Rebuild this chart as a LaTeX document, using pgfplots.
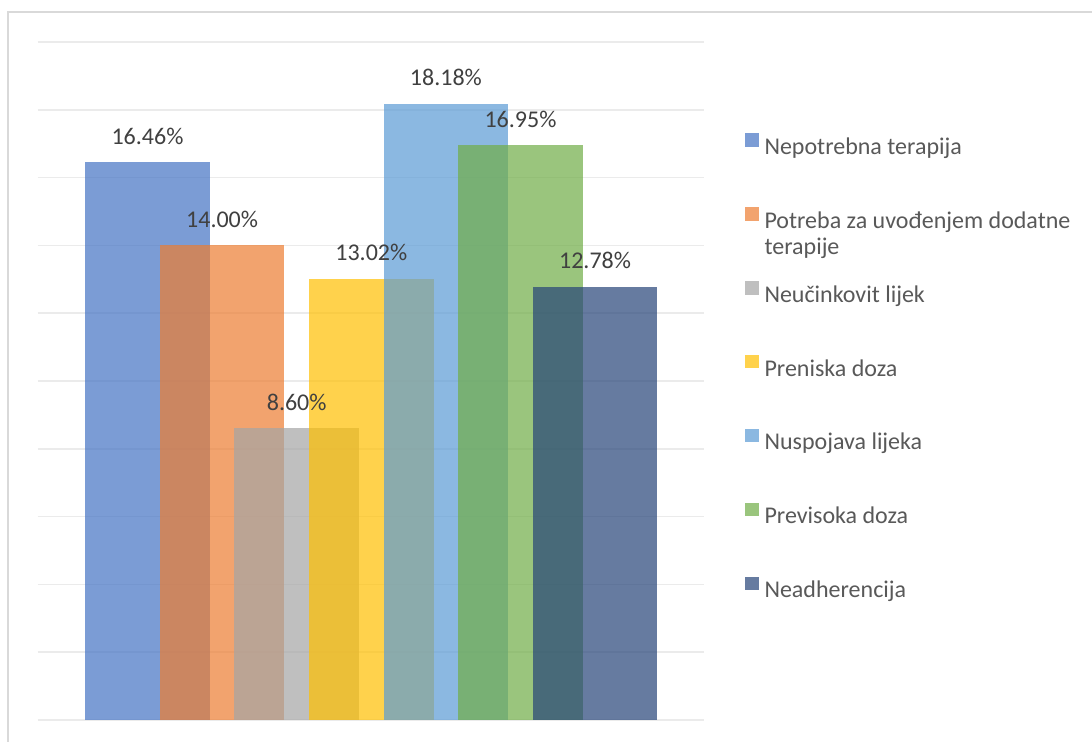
\documentclass[border=0pt]{standalone}
\usepackage{fontspec}
\setmainfont{Carlito}
\usepackage{pgfplots}
\pgfplotsset{compat=1.18}

\definecolor{c1}{HTML}{4472C4}
\definecolor{c2}{HTML}{ED7D31}
\definecolor{c3}{HTML}{A5A5A5}
\definecolor{c4}{HTML}{FFC000}
\definecolor{c5}{HTML}{5B9BD5}
\definecolor{c6}{HTML}{70AD47}
\definecolor{c7}{HTML}{264478}
\definecolor{gridc}{HTML}{EBEBEB}
\definecolor{framec}{HTML}{D9D9D9}
\definecolor{labelc}{HTML}{404040}
\definecolor{legc}{HTML}{595959}

\begin{document}
\begin{tikzpicture}
\path[use as bounding box, fill=white] (0,0) rectangle (546pt,371pt);
\draw[framec, line width=1pt] (4pt,0) -- (4pt,365pt) -- (546pt,365pt);
\begin{axis}[
    at={(19pt,11pt)}, anchor=south west,
    scale only axis, width=333pt, height=339pt,
    xmin=-1.468, xmax=7.46, ymin=0, ymax=20,
    ybar, bar shift=0pt, bar width=62.25pt,
    axis line style={draw=none},
    xtick=\empty, ytick={0,2,...,20}, yticklabels={},
    major tick length=0pt,
    ymajorgrids, grid style={draw=gridc, line width=0.75pt},
    /pgf/number format/assume math mode=true,
    nodes near coords={\pgfmathprintnumber[fixed,fixed zerofill,precision=2]{\pgfplotspointmeta}\%},
    every node near coord/.append style={anchor=center, yshift=13pt, text=labelc,
        font=\fontsize{12}{14}\selectfont, text opacity=1},
    legend cell align=left,
    legend style={at={(1.0616,0.8654)}, anchor=north west, draw=none, fill=none,
        inner sep=0pt, outer sep=0pt, row sep=23.4pt, column sep=3pt,
        font=\fontsize{12}{13}\selectfont, text=legc,
        nodes={inner sep=0pt, text height=9pt, text depth=3pt}},
    legend image code/.code={\fill[#1, draw=none] (0pt,0.8pt) rectangle (6.75pt,7.55pt);},
]
\addplot[fill=c1, draw=none, fill opacity=0.7] coordinates {(0,16.46)};
\addlegendentry{Nepotrebna terapija}
\addplot[fill=c2, draw=none, fill opacity=0.7] coordinates {(1,14.00)};
\addlegendentry{\vtop{\hbox{Potreba za uvođenjem dodatne}\hbox{terapije}}}
\addplot[fill=c3, draw=none, fill opacity=0.7] coordinates {(2,8.60)};
\addlegendentry{Neučinkovit lijek}
\addplot[fill=c4, draw=none, fill opacity=0.7] coordinates {(3,13.02)};
\addlegendentry{Preniska doza}
\addplot[fill=c5, draw=none, fill opacity=0.7] coordinates {(4,18.18)};
\addlegendentry{Nuspojava lijeka}
\addplot[fill=c6, draw=none, fill opacity=0.7] coordinates {(5,16.95)};
\addlegendentry{Previsoka doza}
\addplot[fill=c7, draw=none, fill opacity=0.7] coordinates {(6,12.78)};
\addlegendentry{Neadherencija}
\end{axis}
\end{tikzpicture}
\end{document}
